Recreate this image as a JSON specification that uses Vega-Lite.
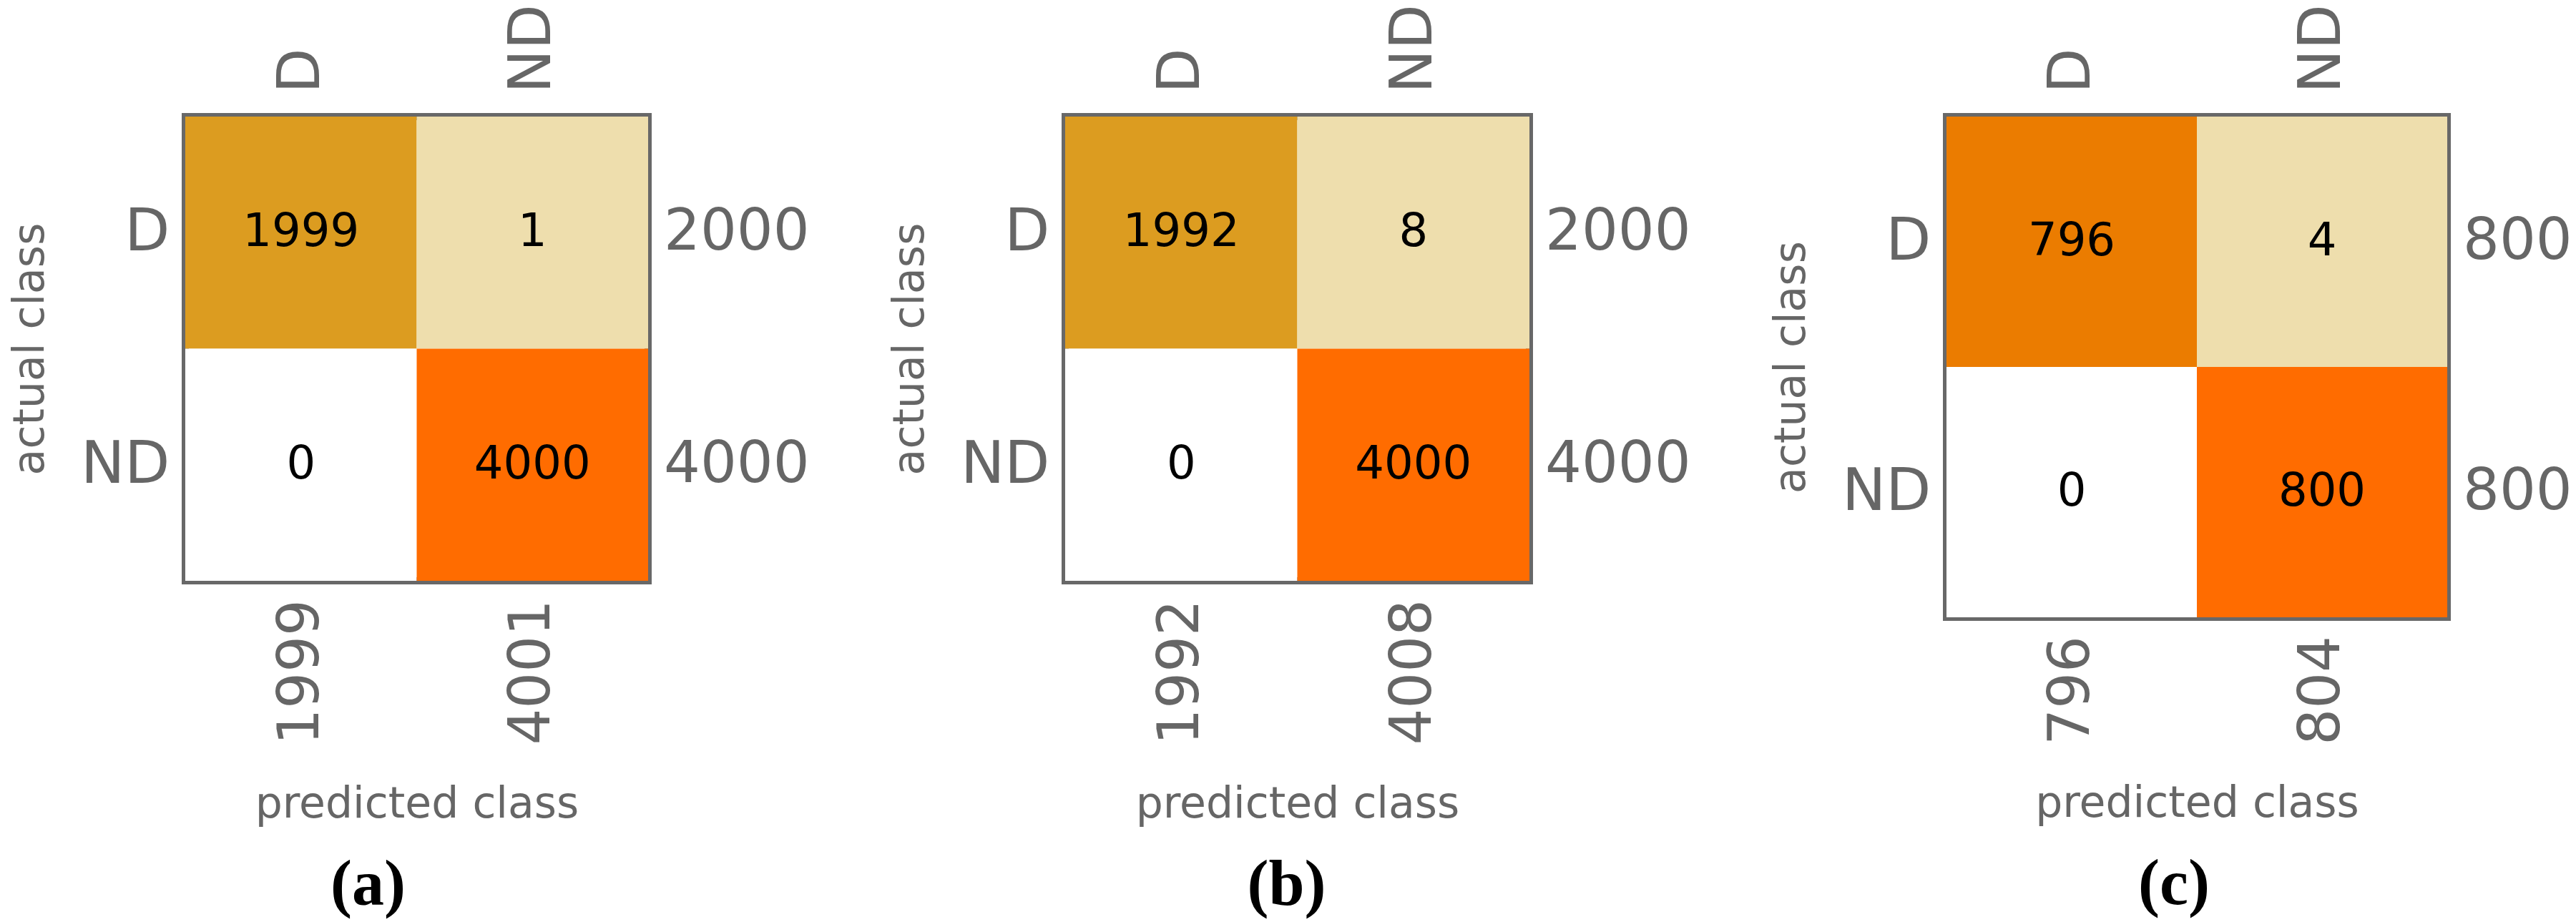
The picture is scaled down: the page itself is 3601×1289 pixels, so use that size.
{
  "$schema": "https://vega.github.io/schema/vega-lite/v6.json",
  "padding": {"left": 7, "top": 0, "right": 0, "bottom": 0},
  "background": "white",
  "spacing": 100,
  "resolve": {"scale": {"color": "independent"}},
  "config": {
    "font": "DejaVu Sans",
    "view": {"stroke": "#686868", "strokeWidth": 10},
    "axis": {
      "domain": false,
      "grid": false,
      "ticks": true,
      "offset": -14,
      "tickSize": 14,
      "tickWidth": 4,
      "tickColor": "#686868",
      "zindex": 1,
      "labelFont": "DejaVu Sans",
      "labelFontSize": 82,
      "labelColor": "#666666",
      "titleFont": "DejaVu Sans",
      "titleFontSize": 60,
      "titleFontWeight": "normal",
      "titleColor": "#666666"
    },
    "title": {"font": "Liberation Serif", "fontSize": 90, "fontWeight": "bold", "color": "#000000"}
  },
  "datasets": {
    "a": [
      {"actual": "D", "predicted": "D", "count": 1999},
      {"actual": "D", "predicted": "ND", "count": 1},
      {"actual": "ND", "predicted": "D", "count": 0},
      {"actual": "ND", "predicted": "ND", "count": 4000}
    ],
    "b": [
      {"actual": "D", "predicted": "D", "count": 1992},
      {"actual": "D", "predicted": "ND", "count": 8},
      {"actual": "ND", "predicted": "D", "count": 0},
      {"actual": "ND", "predicted": "ND", "count": 4000}
    ],
    "c": [
      {"actual": "D", "predicted": "D", "count": 796},
      {"actual": "D", "predicted": "ND", "count": 4},
      {"actual": "ND", "predicted": "D", "count": 0},
      {"actual": "ND", "predicted": "ND", "count": 800}
    ]
  },
  "hconcat": [
    {
      "width": 647, "height": 649,
      "data": {"name": "a"},
      "title": {"text": "(a)", "orient": "bottom", "frame": "group", "anchor": "middle", "dx": -68, "offset": 40},
      "resolve": {"axis": {"x": "independent", "y": "independent"}},
      "layer": [
        {
          "mark": {"type": "rect"},
          "encoding": {
            "x": {"field": "predicted", "type": "nominal", "scale": {"paddingInner": 0, "paddingOuter": 0}, "axis": {"orient": "top", "title": null, "labelAngle": -90, "labelPadding": 33}},
            "y": {"field": "actual", "type": "nominal", "scale": {"paddingInner": 0, "paddingOuter": 0}, "axis": {"orient": "left", "title": "actual class", "labelAngle": 0, "labelPadding": 22, "titlePadding": 39}},
            "color": {"field": "count", "type": "quantitative", "legend": null, "scale": {"type": "threshold", "domain": [1, 1000, 3000], "range": ["#ffffff", "#EEDEAD", "#DC9C20", "#FF6C00"]}}
          }
        },
        {
          "mark": {"type": "text", "fontSize": 64, "color": "#000000"},
          "encoding": {
            "x": {"field": "predicted", "type": "nominal", "axis": {"orient": "bottom", "labels": false, "title": "predicted class", "titlePadding": 281}},
            "y": {"field": "actual", "type": "nominal", "axis": {"orient": "right", "labels": false, "title": null}},
            "text": {"field": "count", "type": "quantitative", "format": "d"}
          }
        },
        {
          "transform": [{"aggregate": [{"op": "sum", "field": "count", "as": "row_total"}], "groupby": ["actual"]}],
          "mark": {"type": "text", "fontSize": 80, "color": "#666666", "align": "left", "baseline": "middle", "dx": 22},
          "encoding": {
            "x": {"datum": "ND", "type": "nominal", "bandPosition": 1, "axis": null},
            "y": {"field": "actual", "type": "nominal", "axis": null},
            "text": {"field": "row_total", "type": "quantitative", "format": "d"}
          }
        },
        {
          "transform": [{"aggregate": [{"op": "sum", "field": "count", "as": "col_total"}], "groupby": ["predicted"]}],
          "mark": {"type": "text", "fontSize": 80, "color": "#666666", "align": "right", "baseline": "middle", "angle": 270, "dx": -26},
          "encoding": {
            "x": {"field": "predicted", "type": "nominal", "axis": null},
            "y": {"datum": "ND", "type": "nominal", "bandPosition": 1, "axis": null},
            "text": {"field": "col_total", "type": "quantitative", "format": "d"}
          }
        }
      ]
    },
    {
      "width": 649, "height": 649,
      "data": {"name": "b"},
      "title": {"text": "(b)", "orient": "bottom", "frame": "group", "anchor": "middle", "dx": -15, "offset": 40},
      "resolve": {"axis": {"x": "independent", "y": "independent"}},
      "layer": [
        {
          "mark": {"type": "rect"},
          "encoding": {
            "x": {"field": "predicted", "type": "nominal", "scale": {"paddingInner": 0, "paddingOuter": 0}, "axis": {"orient": "top", "title": null, "labelAngle": -90, "labelPadding": 33}},
            "y": {"field": "actual", "type": "nominal", "scale": {"paddingInner": 0, "paddingOuter": 0}, "axis": {"orient": "left", "title": "actual class", "labelAngle": 0, "labelPadding": 22, "titlePadding": 39}},
            "color": {"field": "count", "type": "quantitative", "legend": null, "scale": {"type": "threshold", "domain": [1, 1000, 3000], "range": ["#ffffff", "#EEDEAD", "#DC9C20", "#FF6C00"]}}
          }
        },
        {
          "mark": {"type": "text", "fontSize": 64, "color": "#000000"},
          "encoding": {
            "x": {"field": "predicted", "type": "nominal", "axis": {"orient": "bottom", "labels": false, "title": "predicted class", "titlePadding": 281}},
            "y": {"field": "actual", "type": "nominal", "axis": {"orient": "right", "labels": false, "title": null}},
            "text": {"field": "count", "type": "quantitative", "format": "d"}
          }
        },
        {
          "transform": [{"aggregate": [{"op": "sum", "field": "count", "as": "row_total"}], "groupby": ["actual"]}],
          "mark": {"type": "text", "fontSize": 80, "color": "#666666", "align": "left", "baseline": "middle", "dx": 22},
          "encoding": {
            "x": {"datum": "ND", "type": "nominal", "bandPosition": 1, "axis": null},
            "y": {"field": "actual", "type": "nominal", "axis": null},
            "text": {"field": "row_total", "type": "quantitative", "format": "d"}
          }
        },
        {
          "transform": [{"aggregate": [{"op": "sum", "field": "count", "as": "col_total"}], "groupby": ["predicted"]}],
          "mark": {"type": "text", "fontSize": 80, "color": "#666666", "align": "right", "baseline": "middle", "angle": 270, "dx": -26},
          "encoding": {
            "x": {"field": "predicted", "type": "nominal", "axis": null},
            "y": {"datum": "ND", "type": "nominal", "bandPosition": 1, "axis": null},
            "text": {"field": "col_total", "type": "quantitative", "format": "d"}
          }
        }
      ]
    },
    {
      "width": 700, "height": 700,
      "data": {"name": "c"},
      "title": {"text": "(c)", "orient": "bottom", "frame": "group", "anchor": "middle", "dx": -32, "offset": 40},
      "resolve": {"axis": {"x": "independent", "y": "independent"}},
      "layer": [
        {
          "mark": {"type": "rect"},
          "encoding": {
            "x": {"field": "predicted", "type": "nominal", "scale": {"paddingInner": 0, "paddingOuter": 0}, "axis": {"orient": "top", "title": null, "labelAngle": -90, "labelPadding": 33}},
            "y": {"field": "actual", "type": "nominal", "scale": {"paddingInner": 0, "paddingOuter": 0}, "axis": {"orient": "left", "title": "actual class", "labelAngle": 0, "labelPadding": 22, "titlePadding": 39}},
            "color": {"field": "count", "type": "quantitative", "legend": null, "scale": {"type": "threshold", "domain": [1, 100, 798], "range": ["#ffffff", "#EEDEAD", "#EB7C00", "#FF6C00"]}}
          }
        },
        {
          "mark": {"type": "text", "fontSize": 64, "color": "#000000"},
          "encoding": {
            "x": {"field": "predicted", "type": "nominal", "axis": {"orient": "bottom", "labels": false, "title": "predicted class", "titlePadding": 229}},
            "y": {"field": "actual", "type": "nominal", "axis": {"orient": "right", "labels": false, "title": null}},
            "text": {"field": "count", "type": "quantitative", "format": "d"}
          }
        },
        {
          "transform": [{"aggregate": [{"op": "sum", "field": "count", "as": "row_total"}], "groupby": ["actual"]}],
          "mark": {"type": "text", "fontSize": 80, "color": "#666666", "align": "left", "baseline": "middle", "dx": 22},
          "encoding": {
            "x": {"datum": "ND", "type": "nominal", "bandPosition": 1, "axis": null},
            "y": {"field": "actual", "type": "nominal", "axis": null},
            "text": {"field": "row_total", "type": "quantitative", "format": "d"}
          }
        },
        {
          "transform": [{"aggregate": [{"op": "sum", "field": "count", "as": "col_total"}], "groupby": ["predicted"]}],
          "mark": {"type": "text", "fontSize": 80, "color": "#666666", "align": "right", "baseline": "middle", "angle": 270, "dx": -26},
          "encoding": {
            "x": {"field": "predicted", "type": "nominal", "axis": null},
            "y": {"datum": "ND", "type": "nominal", "bandPosition": 1, "axis": null},
            "text": {"field": "col_total", "type": "quantitative", "format": "d"}
          }
        }
      ]
    }
  ]
}
